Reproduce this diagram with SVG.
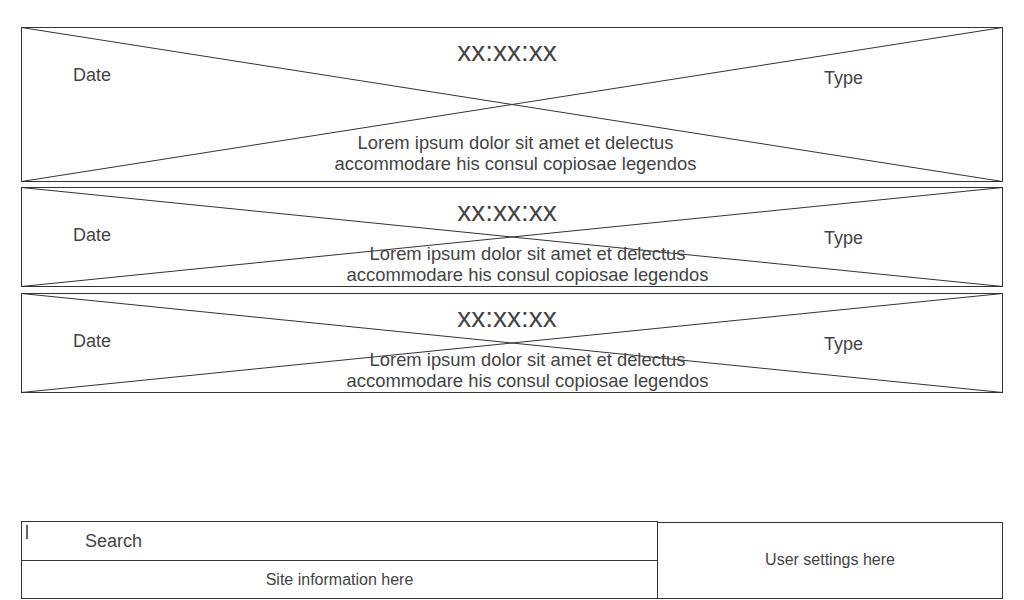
<svg xmlns="http://www.w3.org/2000/svg" width="1024" height="600" viewBox="0 0 1024 600">
<style>
.box{fill:#fff;stroke:#333;stroke-width:1}
.x{stroke:#333;stroke-width:1;fill:none}
text{font-family:"Liberation Sans",Arial,sans-serif;fill:#444}
.t18{font-size:18px}
.lr{font-size:18.4px}
.t16{font-size:16px}
.big{font-size:28px;text-anchor:middle}
.c{text-anchor:middle}
</style>
<rect width="1024" height="600" fill="#fff"/>
<g id="card1">
<rect class="box" x="21.5" y="27.5" width="981" height="154"/>
<path class="x" d="M21.5 27.5L1002.5 181.5M1002.5 27.5L21.5 181.5"/>
<text class="big" x="507" y="61">xx:xx:xx</text>
<text class="t18" x="73" y="81">Date</text>
<text class="t18" x="824" y="84">Type</text>
<text class="lr c" x="515.5" y="149">Lorem ipsum dolor sit amet et delectus</text>
<text class="lr c" x="515.5" y="170">accommodare his consul copiosae legendos</text>
</g>
<g id="card2">
<rect class="box" x="21.5" y="187.5" width="981" height="99"/>
<path class="x" d="M21.5 187.5L1002.5 286.5M1002.5 187.5L21.5 286.5"/>
<text class="big" x="507" y="221">xx:xx:xx</text>
<text class="t18" x="73" y="241">Date</text>
<text class="t18" x="824" y="244">Type</text>
<text class="lr c" x="527.5" y="260">Lorem ipsum dolor sit amet et delectus</text>
<text class="lr c" x="527.5" y="281">accommodare his consul copiosae legendos</text>
</g>
<g id="card3">
<rect class="box" x="21.5" y="293.5" width="981" height="99"/>
<path class="x" d="M21.5 293.5L1002.5 392.5M1002.5 293.5L21.5 392.5"/>
<text class="big" x="507" y="327">xx:xx:xx</text>
<text class="t18" x="73" y="347">Date</text>
<text class="t18" x="824" y="350">Type</text>
<text class="lr c" x="527.5" y="366">Lorem ipsum dolor sit amet et delectus</text>
<text class="lr c" x="527.5" y="387">accommodare his consul copiosae legendos</text>
</g>
<g id="search">
<rect class="box" x="21.5" y="521.5" width="636" height="39"/>
<line x1="27" y1="525" x2="27" y2="539" stroke="#333" stroke-width="1.5"/>
<text class="t18" x="85" y="547">Search</text>
</g>
<g id="siteinfo">
<rect class="box" x="21.5" y="560.5" width="636" height="38"/>
<text class="t16 c" x="339.5" y="585">Site information here</text>
</g>
<g id="usersettings">
<rect class="box" x="657.5" y="522.5" width="345" height="76"/>
<text class="t16 c" x="830" y="565">User settings here</text>
</g>
<g id="connectors"/>
</svg>
